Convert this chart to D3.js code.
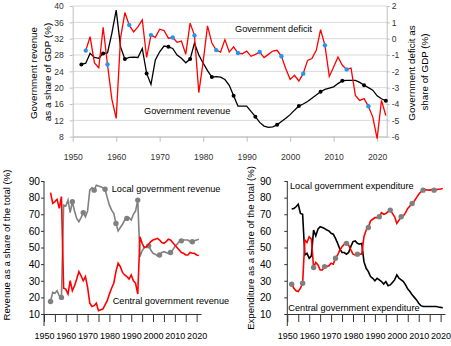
<!DOCTYPE html>
<html>
<head>
<meta charset="utf-8">
<script src="https://cdn.jsdelivr.net/npm/d3@7"></script>
<style>
body { margin: 0; background: #fff; }
svg { display: block; font-family: "Liberation Sans", Arial, sans-serif; }
</style>
</head>
<body>
<svg id="chart" width="451" height="346"></svg>
<script>
// Top panel: government revenue (left axis) and deficit (right axis), % of GDP
var revStart = 1952;
var revenue = [25.7, 26.0, 28.4, 27.4, 27.2, 28.4, 28.5, 33.3, 39.0, 30.0,
  27.0, 27.4, 27.5, 27.4, 29.6, 23.5, 20.8, 26.8, 28.8, 30.2,
  30.0, 29.6, 28.0, 27.2, 26.1, 27.0, 30.9, 28.0, 26.0, 24.2,
  22.6, 22.7, 22.6, 22.0, 20.6, 18.0, 15.5, 15.5, 15.5, 14.2,
  12.9, 11.5, 10.6, 10.3, 10.4, 10.9, 11.7, 12.5, 13.4, 14.5,
  15.5, 16.0, 16.6, 17.4, 18.2, 19.0, 19.6, 19.9, 20.2, 21.0,
  21.7, 21.8, 21.8, 21.8, 21.3, 20.6, 20.0, 19.4, 18.0, 17.3, 16.8];
var defStart = 1953;
var deficit = [-0.73, 0.12, -1.48, -1.78, 0.70, -1.58, -3.7, -4.88, 0.03, 1.60,
  0.83, 0.42, 0.72, 1.15, -1.15, 0.22, 0.08, 0.58, 0.50, 0.03,
  0.07, -0.22, -0.15, -0.95, 0.95, 0.20, -3.3, -1.40, 0.78, -0.27,
  -0.70, -0.82, -0.06, -0.82, -0.50, -0.88, -0.92, -0.76, -1.08, -0.96,
  -0.82, -1.16, -0.96, -0.76, -0.71, -1.08, -1.84, -2.49, -2.24, -2.59,
  -2.14, -1.33, -1.22, -0.71, 0.55, -0.41, -2.31, -1.73, -1.12, -1.63,
  -1.88, -1.80, -3.47, -3.78, -3.67, -4.14, -4.80, -6.12, -3.78, -4.70];
var revTicks = [8, 12, 16, 20, 24, 28, 32, 36, 40];
var defTicks = [-6, -5, -4, -3, -2, -1, 0, 1, 2];
var decades = [1950, 1960, 1970, 1980, 1990, 2000, 2010, 2020];

// Bottom-left: revenue split, % of total
var splitRevStart = 1953;
var centralRev = [83, 76.6, 77.6, 79, 73.5, 80.6, 25.5, 25, 22, 30,
  24, 27, 31, 35.5, 33, 30, 32.5, 26, 16.5, 14.5,
  15, 16.5, 12, 12.5, 13, 15.5, 18, 22, 25.5, 28.5,
  35.5, 40.5, 38.5, 35, 33.5, 32.5, 31, 33.5, 30, 28.5,
  22, 56.5, 52.5, 50, 50.5, 52, 53.5, 54.5, 55, 55.5,
  54.5, 53, 52.5, 53.5, 55, 54.5, 53, 51.5, 50, 48.5,
  47, 46.5, 45.5, 45.5, 47, 46.5, 46.5, 45.5, 45.2];
var localRev = [17.5, 23, 22.5, 24, 21, 20, 75.5, 75, 78.5, 71,
  77.5, 72, 67.5, 65.5, 68, 71, 68.5, 72, 84.5, 86,
  84.5, 87.5, 87, 86.5, 86, 85, 80, 75.5, 72.5, 70.5,
  64.5, 60, 62, 64, 66.5, 67.5, 68, 66.5, 70, 72,
  78.5, 44.5, 48, 50, 50, 51, 48.5, 46.5, 46, 45,
  45.5, 47, 47.5, 47, 46.5, 47, 48.5, 50.5, 52, 53.5,
  54, 54.5, 54.5, 54.5, 53.5, 53.5, 54, 54.5, 55];

// Bottom-right: expenditure split, % of total
var splitExpStart = 1952;
var localExp = [27.9, 25.5, 24, 23.5, 25.5, 28.5, 54.5, 53, 56.5, 55,
  38, 41, 39.5, 36.5, 36.5, 38.5, 38.5, 39, 40.5, 40,
  43.5, 45.5, 48.5, 50.5, 52, 52.5, 51.5, 48.5, 46, 45.5,
  46, 46, 46, 56.5, 60.5, 62, 66, 67, 68, 68,
  68.5, 71, 70, 70.5, 71.5, 72.5, 70.5, 68.5, 64.5, 66.5,
  68.5, 69, 71, 73.5, 75, 76.5, 78, 80, 82, 83.5,
  84.5, 84.8, 84.6, 84.5, 84.8, 84.5, 84.8, 85, 85.2, 85.5];
var centralExp = [73.2, 73.5, 74.5, 76, 70.5, 70, 45.5, 46.5, 43.5, 45,
  60.5, 57, 61, 62.5, 62, 61.5, 60.5, 60, 58.5, 58,
  55.5, 52.5, 49, 47, 47, 46, 47, 50.5, 53.5, 54,
  52.5, 52, 52.5, 41.5, 37.5, 35.5, 32.5, 31.5, 30, 31.5,
  30.5, 29.5, 28, 29.5, 27, 27.5, 29, 30.5, 33.5, 31.5,
  30.5, 29.5, 27.5, 25, 23.5, 21.5, 20, 18.5, 16.5, 15,
  14.5, 14.5, 14.5, 14.5, 14.5, 14.5, 14.5, 14.2, 14, 13.8];
var shareTicks = [10, 20, 30, 40, 50, 60, 70, 80, 90];
var fiveYears = d3.range(1950, 2021, 5);

function series(start, vals) {
  return vals.map(function(v, i) { return { year: start + i, v: v }; });
}

var svg = d3.select('#chart');

// ===== top panel =====
var gTop = svg.append('g');
var xTop = d3.scaleLinear().domain([1950, 2022.2]).range([72.7, 386.7]);
var yRev = d3.scaleLinear().domain([8, 40]).range([136.7, 6]);
var yDef = d3.scaleLinear().domain([-6, 2]).range([136.7, 6]);

gTop.selectAll('line.grid').data(revTicks).enter().append('line')
  .attr('class', 'grid')
  .attr('x1', xTop(1950)).attr('x2', xTop(2022.2))
  .attr('y1', function(d) { return yRev(d); })
  .attr('y2', function(d) { return yRev(d); })
  .attr('stroke', '#d9d9d9').attr('stroke-width', 1);

var axL = gTop.append('g').attr('transform', 'translate(' + xTop(1950) + ',0)')
  .call(d3.axisLeft(yRev).tickValues(revTicks).tickSize(3).tickSizeOuter(0).tickPadding(6));
var axR = gTop.append('g').attr('transform', 'translate(' + xTop(2022.2) + ',0)')
  .call(d3.axisRight(yDef).tickValues(defTicks).tickSize(3).tickSizeOuter(0).tickPadding(2)
    .tickFormat(function(d) { return String(d); }));
var axB = gTop.append('g').attr('transform', 'translate(0,' + yRev(8) + ')')
  .call(d3.axisBottom(xTop).tickValues(decades).tickSize(5).tickSizeOuter(0).tickPadding(12)
    .tickFormat(d3.format('d')));
[axL, axR, axB].forEach(function(a) {
  a.selectAll('path, line').attr('stroke', '#bfbfbf');
  a.selectAll('text').attr('fill', '#333').style('font-size', '8.6px');
});

var lineRev = d3.line().x(function(d) { return xTop(d.year); }).y(function(d) { return yRev(d.v); });
var lineDef = d3.line().x(function(d) { return xTop(d.year); }).y(function(d) { return yDef(d.v); });
var revData = series(revStart, revenue);
var defData = series(defStart, deficit);

gTop.append('path').datum(revData).attr('d', lineRev)
  .attr('fill', 'none').attr('stroke', '#000').attr('stroke-width', 1.3);
gTop.append('path').datum(defData).attr('d', lineDef)
  .attr('fill', 'none').attr('stroke', '#ff0000').attr('stroke-width', 1.3);

gTop.selectAll('circle.rev').data(revData.filter(function(d) { return (d.year - 1952) % 5 === 0; }))
  .enter().append('circle')
  .attr('cx', function(d) { return xTop(d.year); })
  .attr('cy', function(d) { return yRev(d.v); })
  .attr('r', 2).attr('fill', '#000');
gTop.selectAll('circle.def').data(defData.filter(function(d) { return (d.year - 1953) % 5 === 0; }))
  .enter().append('circle')
  .attr('cx', function(d) { return xTop(d.year); })
  .attr('cy', function(d) { return yDef(d.v); })
  .attr('r', 2.2).attr('fill', '#2196f3');

gTop.append('text').attr('x', 235).attr('y', 31.5).style('font-size', '9.2px').text('Government deficit');
gTop.append('text').attr('x', 144).attr('y', 113.5).style('font-size', '9.2px').text('Government revenue');

function rotLabel(g, x, y, txt, size) {
  g.append('text').attr('transform', 'translate(' + x + ',' + y + ') rotate(-90)')
    .attr('text-anchor', 'middle').style('font-size', size + 'px').text(txt);
}
rotLabel(gTop, 36.5, 73, 'Government revenue', 9.8);
rotLabel(gTop, 50.5, 72, 'as a share of GDP (%)', 9.8);
rotLabel(gTop, 415, 73, 'Government deficit as', 9.8);
rotLabel(gTop, 428, 72, 'share of GDP (%)', 9.8);

// ===== bottom panels =====
function sharePanel(opt) {
  var g = svg.append('g');
  var x = d3.scaleLinear().domain([1950, 2022]).range(opt.xr);
  var y = d3.scaleLinear().domain([10, 90]).range([314, 181]);

  // y axis runs past the x axis
  g.append('line').attr('x1', x(1950)).attr('x2', x(1950))
    .attr('y1', y(90)).attr('y2', 326).attr('stroke', '#333');
  var ay = g.append('g').attr('transform', 'translate(' + x(1950) + ',0)')
    .call(d3.axisLeft(y).tickValues(shareTicks).tickSize(3).tickSizeOuter(0).tickPadding(opt.yPad));
  ay.select('.domain').remove();
  ay.selectAll('line').attr('stroke', '#333');
  ay.selectAll('text').attr('fill', '#000').style('font-size', '10.2px');

  var ax = g.append('g').attr('transform', 'translate(0,' + y(10) + ')')
    .call(d3.axisBottom(x).tickValues(fiveYears).tickSize(8).tickSizeOuter(0)
      .tickFormat(function(d) { return d % 10 === 0 ? d : ''; }).tickPadding(11));
  ax.selectAll('path, line').attr('stroke', '#333');
  ax.selectAll('text').attr('fill', '#000').style('font-size', '9px');

  var line = d3.line().x(function(d) { return x(d.year); }).y(function(d) { return y(d.v); });
  opt.lines.forEach(function(s) {
    var data = series(s.start, s.vals);
    g.append('path').datum(data).attr('d', line)
      .attr('fill', 'none').attr('stroke', s.color).attr('stroke-width', 1.6);
    if (s.dotFrom) {
      g.selectAll(null).data(data.filter(function(d) { return (d.year - s.dotFrom) % 5 === 0; }))
        .enter().append('circle')
        .attr('cx', function(d) { return x(d.year); })
        .attr('cy', function(d) { return y(d.v); })
        .attr('r', 2.7).attr('fill', '#808080');
    }
  });

  opt.notes.forEach(function(n) {
    g.append('text').attr('x', n[0]).attr('y', n[1]).style('font-size', '9.2px').text(n[2]);
  });
  rotLabel(g, opt.titleX, opt.titleY, opt.title, 9.6);
}

sharePanel({
  xr: [44, 201], yPad: 1,
  lines: [
    { start: splitRevStart, vals: localRev, color: '#808080', dotFrom: 1953 },
    { start: splitRevStart, vals: centralRev, color: '#ff0000' }
  ],
  notes: [[111.7, 192, 'Local government revenue'], [112.7, 304, 'Central government revenue']],
  title: 'Revenue as a share of the total (%)', titleX: 9.5, titleY: 245
});

sharePanel({
  xr: [287.3, 445], yPad: 13,
  lines: [
    { start: splitExpStart, vals: centralExp, color: '#000' },
    { start: splitExpStart, vals: localExp, color: '#ff0000', dotFrom: 1952 }
  ],
  notes: [[290, 189, 'Local government expenditure'], [288.3, 311, 'Central government expenditure']],
  title: 'Expenditure as a share of the total (%)', titleX: 253.5, titleY: 248
});
</script>
</body>
</html>
